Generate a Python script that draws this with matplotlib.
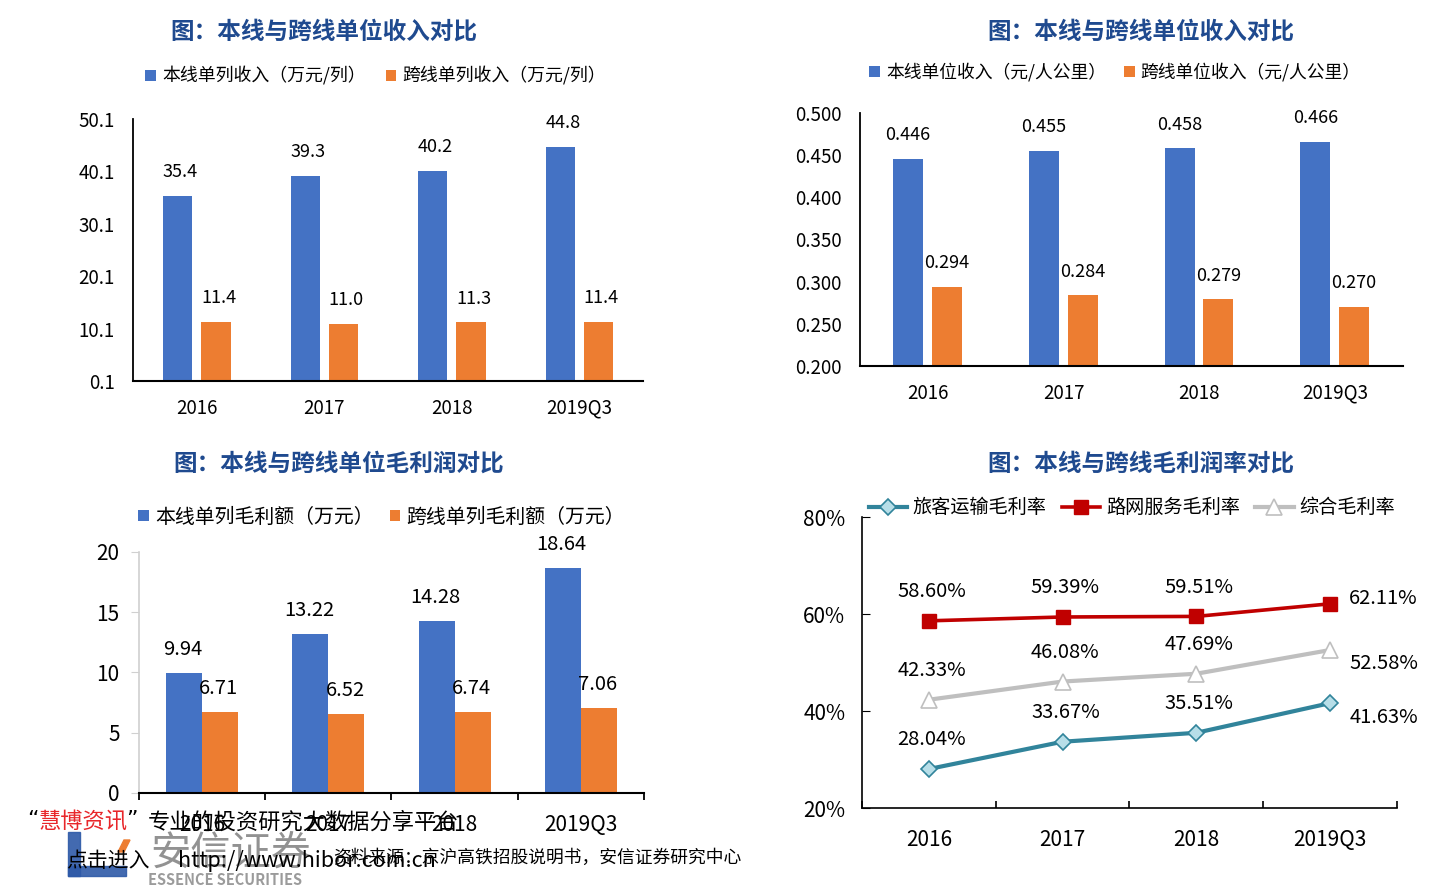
import matplotlib
matplotlib.use("Agg")
import matplotlib.pyplot as plt
from matplotlib.patches import Rectangle, Polygon

plt.rcParams['font.family'] = ['Noto Sans CJK SC', 'DejaVu Sans']

years = ['2016', '2017', '2018', '2019Q3']
rev_main = [35.4, 39.3, 40.2, 44.8]
rev_cross = [11.4, 11.0, 11.3, 11.4]
unit_main = [0.446, 0.455, 0.458, 0.466]
unit_cross = [0.294, 0.284, 0.279, 0.270]
gp_main = [9.94, 13.22, 14.28, 18.64]
gp_cross = [6.71, 6.52, 6.74, 7.06]
m_passenger = [28.04, 33.67, 35.51, 41.63]
m_network = [58.60, 59.39, 59.51, 62.11]
m_total = [42.33, 46.08, 47.69, 52.58]

BLUE = '#4472C4'
ORANGE = '#ED7D31'
TITLE = '#1F4A8F'

fig = plt.figure(figsize=(14.4, 8.89), dpi=100)
x = list(range(len(years)))


def bar_axes(ax):
    for s in ['top', 'right']:
        ax.spines[s].set_visible(False)
    ax.spines['left'].set_linewidth(1.3)
    ax.spines['bottom'].set_linewidth(1.5)
    ax.set_xlim(-0.5, 3.5)
    ax.set_xticks(x)
    ax.set_xticklabels(years)
    ax.tick_params(axis='both', length=0, labelsize=13.5, pad=12)
    ax.tick_params(axis='y', pad=13)


# ---- panel 1
ax1 = fig.add_axes([0.0924, 0.5714, 0.3542, 0.2947])
b1 = ax1.bar([i - 0.15 for i in x], rev_main, 0.23, color=BLUE)
b2 = ax1.bar([i + 0.15 for i in x], rev_cross, 0.23, color=ORANGE)
ax1.set_ylim(0.1, 50.1)
yt1 = [0.1, 10.1, 20.1, 30.1, 40.1, 50.1]
ax1.set_yticks(yt1)
ax1.set_yticklabels(['%.1f' % t for t in yt1])
bar_axes(ax1)
for bars, vals in [(b1, rev_main), (b2, rev_cross)]:
    for b, v in zip(bars, vals):
        ax1.annotate('%.1f' % v, (b.get_x() + b.get_width() / 2, v), xytext=(2, 17),
                     textcoords='offset points', ha='center', va='center', fontsize=13)
ax1.legend([b1, b2], ['本线单列收入（万元/列）', '跨线单列收入（万元/列）'], ncol=2, frameon=False,
           loc='center', bbox_to_anchor=(0.261, 0.9145), bbox_transform=fig.transFigure,
           fontsize=12.9, handlelength=0.6, handleheight=0.6, handletextpad=0.35, columnspacing=1.1)
fig.text(0.225, 0.964, '图：本线与跨线单位收入对比', ha='center', va='center', fontsize=17,
         fontweight='bold', color=TITLE)

# ---- panel 2
ax2 = fig.add_axes([0.5972, 0.5883, 0.3771, 0.2846])
c1 = ax2.bar([i - 0.145 for i in x], unit_main, 0.22, color=BLUE)
c2 = ax2.bar([i + 0.14 for i in x], unit_cross, 0.22, color=ORANGE)
ax2.set_ylim(0.2, 0.5)
yt2 = [0.2, 0.25, 0.3, 0.35, 0.4, 0.45, 0.5]
ax2.set_yticks(yt2)
ax2.set_yticklabels(['%.3f' % t for t in yt2])
bar_axes(ax2)
for bars, vals in [(c1, unit_main), (c2, unit_cross)]:
    for b, v in zip(bars, vals):
        ax2.annotate('%.3f' % v, (b.get_x() + b.get_width() / 2, v), xytext=(0, 17),
                     textcoords='offset points', ha='center', va='center', fontsize=13)
ax2.legend([c1, c2], ['本线单位收入（元/人公里）', '跨线单位收入（元/人公里）'], ncol=2, frameon=False,
           loc='center', bbox_to_anchor=(0.7743, 0.919), bbox_transform=fig.transFigure,
           fontsize=12.8, handlelength=0.6, handleheight=0.6, handletextpad=0.35, columnspacing=1.0)
fig.text(0.7925, 0.964, '图：本线与跨线单位收入对比', ha='center', va='center', fontsize=17,
         fontweight='bold', color=TITLE)

# ---- panel 3
ax3 = fig.add_axes([0.0965, 0.1080, 0.3507, 0.2711])
d1 = ax3.bar([i - 0.1425 for i in x], gp_main, 0.285, color=BLUE)
d2 = ax3.bar([i + 0.1425 for i in x], gp_cross, 0.285, color=ORANGE)
ax3.set_ylim(0, 20)
ax3.set_yticks([0, 5, 10, 15, 20])
ax3.set_xlim(-0.5, 3.5)
ax3.set_xticks(x)
ax3.set_xticklabels(years)
ax3.set_xticks([-0.5, 0.5, 1.5, 2.5, 3.5], minor=True)
for s in ['top', 'right']:
    ax3.spines[s].set_visible(False)
ax3.spines['left'].set_color('#D0D0D0')
ax3.spines['left'].set_linewidth(1.2)
ax3.spines['bottom'].set_linewidth(1.5)
ax3.tick_params(axis='x', which='major', length=0, labelsize=15, pad=15)
ax3.tick_params(axis='x', which='minor', length=5, width=1.3, direction='out')
ax3.tick_params(axis='y', length=6, color='#D0D0D0', labelsize=15, pad=8)
for bars, vals in [(d1, gp_main), (d2, gp_cross)]:
    for b, v in zip(bars, vals):
        ax3.annotate('%.2f' % v, (b.get_x() + b.get_width() / 2, v), xytext=(-1, 17),
                     textcoords='offset points', ha='center', va='center', fontsize=14.5)
ax3.legend([d1, d2], ['本线单列毛利额（万元）', '跨线单列毛利额（万元）'], ncol=2, frameon=False,
           loc='center', bbox_to_anchor=(0.265, 0.4184), bbox_transform=fig.transFigure,
           fontsize=14.3, handlelength=0.55, handleheight=0.55, handletextpad=0.3, columnspacing=0.8)
fig.text(0.235, 0.478, '图：本线与跨线单位毛利润对比', ha='center', va='center', fontsize=17,
         fontweight='bold', color=TITLE)

# ---- panel 4
ax4 = fig.add_axes([0.5986, 0.0911, 0.3715, 0.3273])
l1, = ax4.plot(x, m_passenger, color='#31849B', lw=3, marker='D', ms=8,
               mfc='#B7DEE8', mec='#31849B', mew=1.2)
l2, = ax4.plot(x, m_network, color='#C00000', lw=2.6, marker='s', ms=10,
               mfc='#C00000', mec='#C00000')
l3, = ax4.plot(x, m_total, color='#BFBFBF', lw=3, marker='^', ms=11,
               mfc='white', mec='#BFBFBF', mew=1.2)
ax4.set_xlim(-0.5, 3.5)
ax4.set_ylim(20, 80)
ax4.set_yticks([20, 40, 60, 80])
ax4.set_yticklabels(['%d%%' % t for t in [20, 40, 60, 80]])
ax4.set_xticks(x)
ax4.set_xticklabels(years)
ax4.set_xticks([-0.5, 0.5, 1.5, 2.5, 3.5], minor=True)
for s in ['top', 'right']:
    ax4.spines[s].set_visible(False)
ax4.spines['left'].set_linewidth(1.2)
ax4.spines['bottom'].set_linewidth(1.2)
ax4.tick_params(axis='y', direction='in', length=6, labelsize=15, pad=12)
ax4.tick_params(axis='x', which='major', length=0, labelsize=15, pad=15)
ax4.tick_params(axis='x', which='minor', direction='in', length=5, width=1.2)
for series in [m_passenger, m_network, m_total]:
    for i, v in enumerate(series):
        if i < 3:
            off = (2, 21)
        elif series is m_network:
            off = (38, 4)
        else:
            off = (39, -10)
        ax4.annotate('%.2f%%' % v, (i, v), xytext=off, textcoords='offset points',
                     ha='center', va='center', fontsize=14.5)
ax4.legend([l1, l2, l3], ['旅客运输毛利率', '路网服务毛利率', '综合毛利率'], ncol=3, frameon=False,
           loc='center', bbox_to_anchor=(0.786, 0.4286), bbox_transform=fig.transFigure,
           fontsize=13.8, handlelength=2.0, handletextpad=0.3, columnspacing=0.8)
fig.text(0.7925, 0.478, '图：本线与跨线毛利润率对比', ha='center', va='center', fontsize=17,
         fontweight='bold', color=TITLE)

# ---- footer / watermark
fig.patches.append(Rectangle((68 / 1440, 1 - 876 / 889), 12 / 1440, 44 / 889,
                             transform=fig.transFigure, color='#2E5AA8', alpha=0.9, zorder=0))
fig.patches.append(Rectangle((68 / 1440, 1 - 876 / 889), 58 / 1440, 10 / 889,
                             transform=fig.transFigure, color='#2E5AA8', alpha=0.9, zorder=0))
fig.patches.append(Polygon([(118 / 1440, 1 - 852 / 889), (124 / 1440, 1 - 852 / 889),
                            (130 / 1440, 1 - 840 / 889), (124 / 1440, 1 - 840 / 889)],
                           closed=True, transform=fig.transFigure, color=ORANGE, zorder=0))
fig.text(150 / 1440, 1 - 853 / 889, '安信证券', ha='left', va='center', fontsize=29,
         color='#7F7F7F', alpha=0.85, zorder=0)
fig.text(148 / 1440, 1 - 880 / 889, 'ESSENCE SECURITIES', ha='left', va='center', fontsize=10.5,
         fontweight='bold', color='#8A8A8A', alpha=0.85, zorder=0)
fig.text(27 / 1440, 1 - 820 / 889, '“', ha='left', va='center', fontsize=16, color='black',
         family=['DejaVu Sans'])
fig.text(39 / 1440, 1 - 822 / 889, '慧博资讯', ha='left', va='center', fontsize=16, color='#E8262A')
fig.text(126 / 1440, 1 - 820 / 889, '”', ha='left', va='center', fontsize=16, color='black',
         family=['DejaVu Sans'])
fig.text(148 / 1440, 1 - 822 / 889, '专业的投资研究大数据分享平台', ha='left', va='center',
         fontsize=16, color='black')
fig.text(66 / 1440, 1 - 861 / 889, '点击进入', ha='left', va='center', fontsize=15, color='black')
fig.text(178 / 1440, 1 - 861 / 889, 'http://www.hibor.com.cn', ha='left', va='center',
         fontsize=15.5, color='black')
fig.text(333 / 1440, 1 - 858 / 889, '资料来源：京沪高铁招股说明书，安信证券研究中心', ha='left',
         va='center', fontsize=12.8, color='black')

fig.savefig('out.png', dpi=100)
